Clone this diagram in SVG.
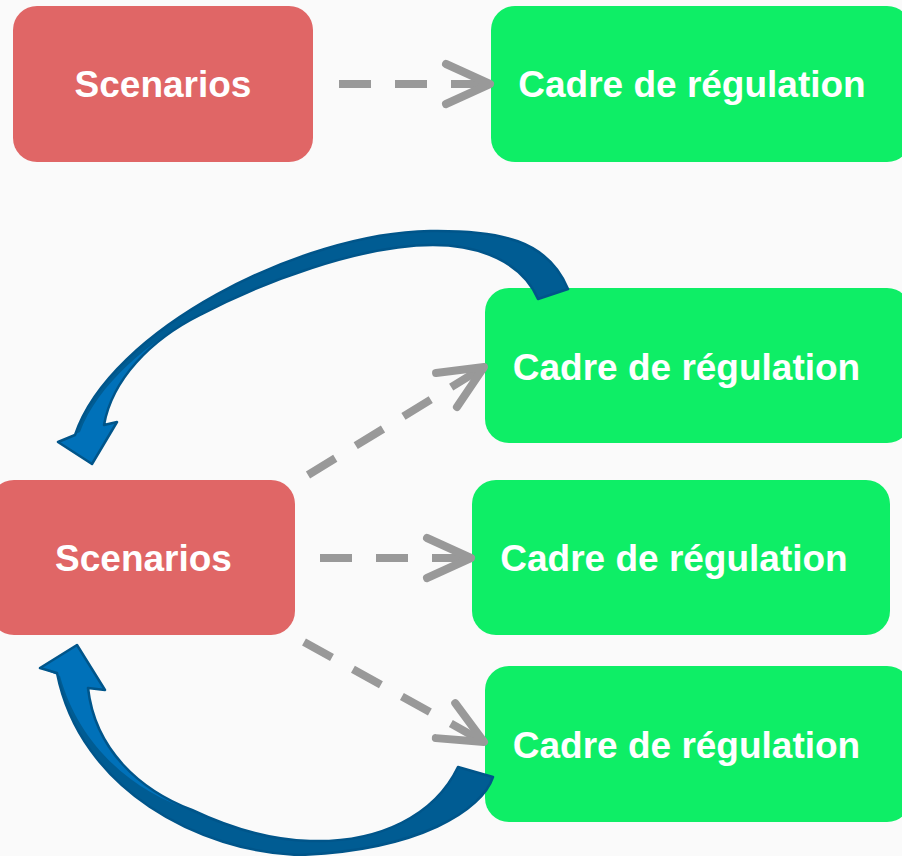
<svg xmlns="http://www.w3.org/2000/svg" xmlns:xlink="http://www.w3.org/1999/xlink" width="902" height="856" viewBox="0 0 902 856">
<style>
.scen{fill:#E06666}
.cadre{fill:#0EEE66}
.lbl{font-family:"Liberation Sans",Arial,sans-serif;font-weight:bold;font-size:37px;fill:#FFFFFF;text-anchor:middle}
.dash{fill:none;stroke:#999999;stroke-width:8;stroke-dasharray:32 24}
.chev{fill:none;stroke:#999999;stroke-width:8;stroke-linecap:round;stroke-linejoin:round}
.dark{fill:#005C93}
.light{fill:#0071B9}
.outl{fill:none;stroke:#00558A;stroke-width:2.5;stroke-linejoin:round}
</style>
<defs>
<marker id="chev" markerUnits="userSpaceOnUse" orient="auto" refX="0" refY="0" markerWidth="60" markerHeight="60" overflow="visible">
<path class="chev" d="M -44,-20 L 0,0 L -44,20"/>
</marker>
<path id="topArrow" d="M 568,289 C 548,240 500,230 430,231 C 300,233 110,330 75,435 L 58,442 L 92,464 L 117,422 L 104,425 C 112,380 150,340 200,315 C 260,283 360,245 433,245 C 480,245 522,262 538,299 Z"/>
<path id="botArrow" d="M 493,777 C 482,810 420,850 300,855 C 200,852 80,790 57,673 L 40,668 L 77,645 L 105,690 L 88,688 C 95,750 140,790 192,810 C 230,828 270,840 310,841 C 380,843 435,815 458,767 Z"/>
</defs>
<rect width="902" height="856" fill="#FAFAFA"/>
<g id="n1"><rect class="scen" x="13" y="6" width="300" height="156" rx="24"/><text class="lbl" x="163" y="97">Scenarios</text></g>
<g id="n2"><rect class="cadre" x="491" y="6" width="420" height="156" rx="24"/><text class="lbl" x="692" y="97">Cadre de régulation</text></g>
<g id="n3"><rect class="cadre" x="485" y="288" width="426" height="155" rx="24"/><text class="lbl" x="686.5" y="380">Cadre de régulation</text></g>
<g id="n4"><rect class="scen" x="-10" y="480" width="305" height="155" rx="24"/><text class="lbl" x="143.5" y="571">Scenarios</text></g>
<g id="n5"><rect class="cadre" x="472" y="480" width="418" height="155" rx="24"/><text class="lbl" x="674" y="571">Cadre de régulation</text></g>
<g id="n6"><rect class="cadre" x="485" y="666" width="426" height="156" rx="24"/><text class="lbl" x="686.5" y="758">Cadre de régulation</text></g>
<g id="connectors">
<path class="dash" d="M 339,84 L 490,84" marker-end="url(#chev)"/>
<path class="dash" d="M 308,475 L 484,367" marker-end="url(#chev)"/>
<path class="dash" d="M 320,558 L 471,558" marker-end="url(#chev)"/>
<path class="dash" d="M 304,642 L 484,742" marker-end="url(#chev)"/>
<g id="curveTop">
<use xlink:href="#topArrow" class="dark"/>
<path class="light" d="M 104,425 C 112,380 150,340 200,315 C 150,340 97,385 80,432 L 58,442 L 92,464 L 117,422 Z"/>
<use xlink:href="#topArrow" class="outl"/>
</g>
<g id="curveBottom">
<use xlink:href="#botArrow" class="dark"/>
<path class="light" d="M 88,688 C 95,750 140,790 192,810 C 140,795 80,750 60,676 L 40,668 L 77,645 L 105,690 Z"/>
<use xlink:href="#botArrow" class="outl"/>
</g>
</g>
</svg>
